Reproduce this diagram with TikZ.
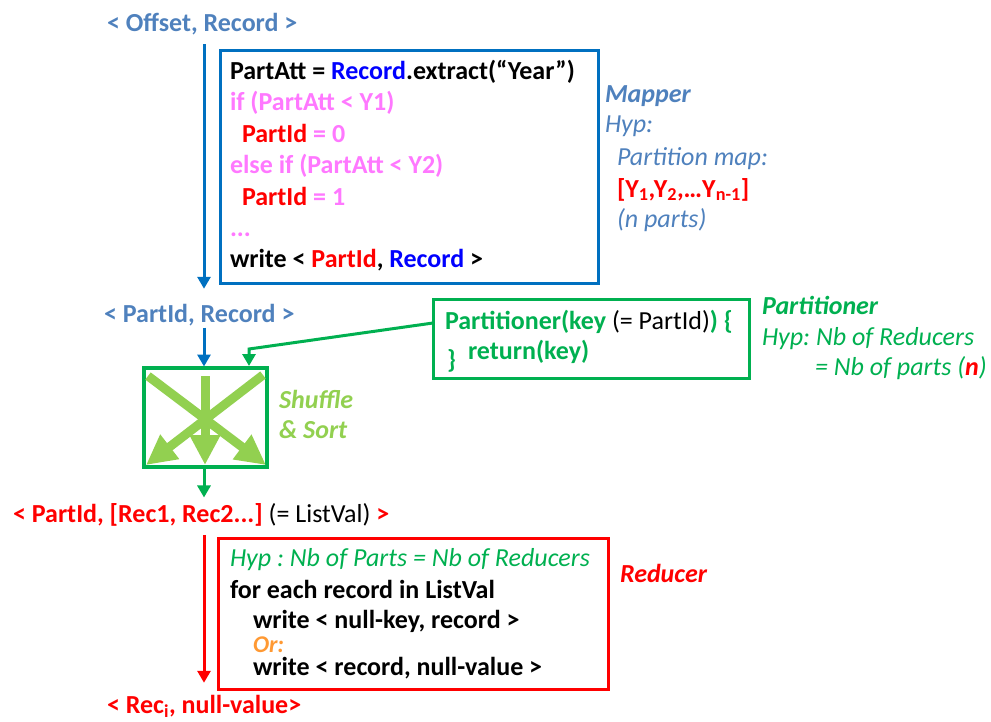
\documentclass[tikz,border=0pt]{standalone}
\usepackage{fontspec}
\setmainfont{Carlito}
\usetikzlibrary{arrows.meta}

\definecolor{hdrblue}{RGB}{79,129,189}
\definecolor{mapblue}{RGB}{0,112,192}
\definecolor{recblue}{RGB}{0,0,255}
\definecolor{condpink}{RGB}{255,120,255}
\definecolor{keyred}{RGB}{255,0,0}
\definecolor{partgreen}{RGB}{0,176,80}
\definecolor{lightgreen}{RGB}{146,208,80}
\definecolor{ororange}{RGB}{255,153,51}

\newcommand\dgfs{\fontsize{26}{30}\selectfont}
\frenchspacing

\begin{document}
\begin{tikzpicture}[x=1pt,y=-1pt,
  txt/.style={inner sep=0pt, outer sep=0pt, anchor=base west, font=\dgfs},
  txtb/.style={txt, font=\dgfs\bfseries},
  frame/.style={draw, line width=3pt, inner sep=0pt, outer sep=0pt, anchor=north west},
  flow/.style={line width=3pt, -{Triangle[width=13pt,length=12pt]}},
  spread/.style={line width=9pt, draw=lightgreen, -{Triangle[width=29pt,length=30pt]}}]

\useasboundingbox (0,0) rectangle (991,721);

% ---------------- Map stage ----------------
\node[txtb, text=hdrblue] (offrec) at (107,31.7) {< Offset, Record >};

\node[frame, draw=mapblue, minimum width=378pt, minimum height=233pt] (mapbox) at (220,50) {};
\node[txtb] (m1) at (230,79) {PartAtt = \textcolor{recblue}{Record}.extract(“Year”)};
\node[txtb, text=condpink] (m2) at (230,110) {if (PartAtt < Y1)};
\node[txtb] (m3) at (242,142) {\textcolor{keyred}{PartId} \textcolor{condpink}{= 0}};
\node[txtb, text=condpink] (m4) at (230,173.5) {else if (PartAtt < Y2)};
\node[txtb] (m5) at (242,205) {\textcolor{keyred}{PartId} \textcolor{condpink}{= 1}};
\node[txtb, text=condpink] (m6) at (230,236) {...};
\node[txtb] (m7) at (230,267) {write < \textcolor{keyred}{PartId}, \textcolor{recblue}{Record} >};

\node[txtb, text=hdrblue, font=\dgfs\bfseries\itshape] (mlab) at (605,102) {Mapper};
\node[txt, text=hdrblue, font=\dgfs\itshape] (mhyp) at (605,132) {Hyp:};
\node[txt, text=hdrblue, font=\dgfs\itshape] (mmap) at (617,165) {Partition map:};
\node[txtb, text=keyred] (mvals) at (617,197) {[Y\textsubscript{1},Y\textsubscript{2},…Y\textsubscript{n-1}]};
\node[txt, text=hdrblue, font=\dgfs\itshape] (mparts) at (617,227) {(n parts)};

\node[txtb, text=hdrblue] (partrec) at (104,322) {< PartId, Record >};

\coordinate (axis) at (204,0);
\draw[flow, draw=mapblue, shorten <=9pt, shorten >=15pt]
  (offrec.south -| axis) -- (partrec.north -| axis);

% ---------------- Partitioner ----------------
\node[frame, draw=partgreen, minimum width=316pt, minimum height=79pt] (partbox) at (433,299) {};
\node[txtb, text=partgreen] (p1) at (445,329) {Partitioner(key\textcolor{black}{\mdseries{} (= PartId)}) \{};
\node[txtb, text=partgreen] (p2) at (468,359) {return(key)};
\node[txtb, text=partgreen] (p3) at (447,368) {\}};

\node[txtb, text=partgreen, font=\dgfs\bfseries\itshape] (plab) at (762,314) {Partitioner};
\node[txt, text=partgreen, font=\dgfs\itshape] (phyp) at (762,345) {Hyp: Nb of Reducers};
\node[txt, text=partgreen, font=\dgfs\itshape] (peq) at (815,375) {= Nb of parts (\textcolor{keyred}{\bfseries n})};

% ---------------- Shuffle & Sort ----------------
\node[frame, draw=partgreen, line width=3.5pt, minimum width=123pt, minimum height=99pt] (shufbox) at (144,368) {};
\draw[spread] (148,376) -- (266,465);
\draw[spread] (263,375) -- (146,465);
\draw[spread] (205,376) -- (205,465);

\node[txtb, text=lightgreen, font=\dgfs\bfseries\itshape] (sh1) at (279,408) {Shuffle};
\node[txtb, text=lightgreen, font=\dgfs\bfseries\itshape] (sh2) at (279,438) {\& Sort};

\draw[flow, draw=mapblue, shorten <=2pt, shorten >=1.5pt]
  (partrec.south -| axis) -- (shufbox.north -| axis);

\coordinate (kink) at (249,349);
\draw[flow, draw=partgreen, shorten >=2pt]
  ([yshift=15.5pt]partbox.west) -- (kink) -- (kink |- shufbox.north);

\node[txtb, text=keyred] (listval) at (13,522) {< PartId, [Rec1, Rec2...]\textcolor{black}{\mdseries{} (= ListVal)} >};

\draw[flow, draw=partgreen, shorten >=5.5pt]
  (shufbox.south -| axis) -- (listval.north -| axis);

% ---------------- Reduce stage ----------------
\node[frame, draw=keyred, minimum width=390pt, minimum height=151pt] (redbox) at (218,538) {};
\node[txt, text=partgreen, font=\dgfs\itshape] (r1) at (230,566) {Hyp : Nb of Parts = Nb of Reducers};
\node[txtb] (r2) at (230,598) {for each record in ListVal};
\node[txtb] (r3) at (253,628) {write < null-key, record >};
\node[txtb, text=ororange, font=\fontsize{24}{26}\selectfont\bfseries\itshape] (r4) at (253,652.5) {Or:};
\node[txtb] (r5) at (253,675) {write < record, null-value >};

\node[txtb, text=keyred, font=\dgfs\bfseries\itshape] (rlab) at (620,582) {Reducer};

\node[txtb, text=keyred] (recout) at (107,713) {< Rec\textsubscript{i}, null-value>};

\draw[flow, draw=keyred, shorten <=9pt, shorten >=12pt]
  (listval.south -| axis) -- (recout.north -| axis);

\end{tikzpicture}
\end{document}
